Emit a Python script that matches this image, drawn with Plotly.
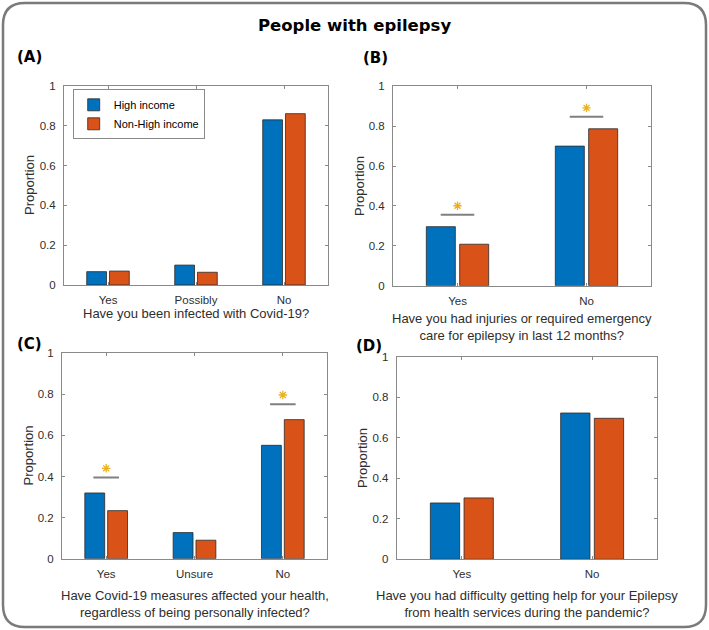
import plotly.graph_objects as go

# ---------------- data ----------------
series_names = ["High income", "Non-High income"]

cats_A = ["Yes", "Possibly", "No"]
high_A = [0.067, 0.100, 0.830]
non_A = [0.070, 0.064, 0.861]
sig_A = [False, False, False]

cats_B = ["Yes", "No"]
high_B = [0.296, 0.700]
non_B = [0.208, 0.787]
sig_B = [True, True]

cats_C = ["Yes", "Unsure", "No"]
high_C = [0.320, 0.127, 0.552]
non_C = [0.234, 0.090, 0.677]
sig_C = [True, False, True]

cats_D = ["Yes", "No"]
high_D = [0.278, 0.722]
non_D = [0.303, 0.696]
sig_D = [False, False]

y_ticks = [0, 0.2, 0.4, 0.6, 0.8, 1]
y_tick_labels = ["0", "0.2", "0.4", "0.6", "0.8", "1"]

xlab_A = "Have you been infected with Covid-19?"
xlab_B = "Have you had injuries or required emergency<br>care for epilepsy in last 12 months?"
xlab_C = "Have Covid-19 measures affected your health,<br>regardless of being personally infected?"
xlab_D = "Have you had difficulty getting help for your Epilepsy<br>from health services during the pandemic?"
main_title = "People with epilepsy"

# ---------------- styling ----------------
W, H = 709, 630
BLUE = "#0072BD"
ORANGE = "#D95319"
STAR = "#EDB120"
SIGLINE = "#808080"
AXCOL = "#8a8a8a"
TXT = "#2e2e2e"
FONT = "Liberation Sans, Arial, sans-serif"
BOLD = "DejaVu Sans, Verdana, sans-serif"


def fx(p):
    return p / W


def fy(p):
    return 1 - p / H


panels = [
    dict(key="A", cats=cats_A, hi=high_A, lo=non_A, sig=sig_A, xlab=xlab_A,
         box=(64, 328, 86, 285), lab=(29, 57), ylab_x=29.5, xlab_y=313, sig_off=0.07, half=0.14),
    dict(key="B", cats=cats_B, hi=high_B, lo=non_B, sig=sig_B, xlab=xlab_B,
         box=(393, 651, 86.3, 285.7), lab=(375.5, 58), ylab_x=359, xlab_y=327, sig_off=0.06, half=0.13),
    dict(key="C", cats=cats_C, hi=high_C, lo=non_C, sig=sig_C, xlab=xlab_C,
         box=(62, 327, 353.3, 558.7), lab=(29.5, 344), ylab_x=27.5, xlab_y=604, sig_off=0.075, half=0.145),
    dict(key="D", cats=cats_D, hi=high_D, lo=non_D, sig=sig_D, xlab=xlab_D,
         box=(396.7, 657.3, 356.7, 559.3), lab=(368.5, 345.5), ylab_x=362, xlab_y=603.5, sig_off=0.07, half=0.13),
]

fig = go.Figure()
annotations = []
layout_axes = {}

for i, p in enumerate(panels):
    n = i + 1
    xa = "x" if n == 1 else f"x{n}"
    ya = "y" if n == 1 else f"y{n}"
    xpos = list(range(1, len(p["cats"]) + 1))
    for name, vals, col in [(series_names[0], p["hi"], BLUE), (series_names[1], p["lo"], ORANGE)]:
        fig.add_trace(go.Bar(
            x=xpos, y=vals, name=name, xaxis=xa, yaxis=ya,
            marker=dict(color=col, line=dict(color="#2a2a2a", width=0.8)),
            showlegend=(n == 1), legendgroup=name, hoverinfo="skip",
        ))
    # significance markers
    for c, flag, a, b in zip(xpos, p["sig"], p["hi"], p["lo"]):
        if not flag:
            continue
        ly = max(a, b) + p["sig_off"]
        fig.add_trace(go.Scatter(
            x=[c - p["half"], c + p["half"]], y=[ly, ly], mode="lines",
            line=dict(color=SIGLINE, width=2), xaxis=xa, yaxis=ya,
            showlegend=False, hoverinfo="skip"))
        fig.add_trace(go.Scatter(
            x=[c], y=[ly + 0.045], mode="markers",
            marker=dict(symbol="asterisk-open", size=7, color=STAR,
                        line=dict(color=STAR, width=1.3)),
            xaxis=xa, yaxis=ya, showlegend=False, hoverinfo="skip"))

    x0, x1, y0, y1 = p["box"]
    axis_common = dict(showline=True, linecolor=AXCOL, linewidth=1, mirror="allticks",
                       ticks="inside", ticklen=3, tickcolor=AXCOL, showgrid=False,
                       zeroline=False, automargin=False,
                       tickfont=dict(family=FONT, size=11.5, color=TXT))
    layout_axes["xaxis" if n == 1 else f"xaxis{n}"] = dict(
        domain=[fx(x0), fx(x1)], range=[0.5, len(p["cats"]) + 0.5],
        tickvals=xpos, ticktext=p["cats"], anchor=ya, ticklabelstandoff=4, **axis_common)
    layout_axes["yaxis" if n == 1 else f"yaxis{n}"] = dict(
        domain=[fy(y1), fy(y0)], range=[0, 1], tickvals=y_ticks, ticktext=y_tick_labels,
        anchor=xa, ticklabelstandoff=5, **axis_common)

    # panel label
    annotations.append(dict(text=f"<b>({p['key']})</b>", x=fx(p["lab"][0]), y=fy(p["lab"][1]),
                            xref="paper", yref="paper", showarrow=False,
                            xanchor="center", yanchor="middle",
                            font=dict(family=BOLD, size=15, color="black")))
    # y label
    annotations.append(dict(text="Proportion", x=fx(p["ylab_x"]), y=fy((y0 + y1) / 2),
                            xref="paper", yref="paper", showarrow=False, textangle=-90,
                            xanchor="center", yanchor="middle",
                            font=dict(family=FONT, size=13, color=TXT)))
    # x label
    annotations.append(dict(text=p["xlab"], x=fx((x0 + x1) / 2), y=fy(p["xlab_y"]),
                            xref="paper", yref="paper", showarrow=False,
                            xanchor="center", yanchor="middle",
                            font=dict(family=FONT, size=13, color=TXT)))

annotations.append(dict(text=f"<b>{main_title}</b>", x=fx(354), y=fy(26),
                        xref="paper", yref="paper", showarrow=False,
                        xanchor="center", yanchor="middle",
                        font=dict(family=BOLD, size=16.5, color="black")))

# rounded outer frame
bx0, bx1, by0, by1, r = 3, 706, 3, 627, 22
path = (f"M {fx(bx0 + r)},{fy(by0)} L {fx(bx1 - r)},{fy(by0)} "
        f"Q {fx(bx1)},{fy(by0)} {fx(bx1)},{fy(by0 + r)} "
        f"L {fx(bx1)},{fy(by1 - r)} Q {fx(bx1)},{fy(by1)} {fx(bx1 - r)},{fy(by1)} "
        f"L {fx(bx0 + r)},{fy(by1)} Q {fx(bx0)},{fy(by1)} {fx(bx0)},{fy(by1 - r)} "
        f"L {fx(bx0)},{fy(by0 + r)} Q {fx(bx0)},{fy(by0)} {fx(bx0 + r)},{fy(by0)} Z")

fig.update_layout(
    width=W, height=H, margin=dict(l=0, r=0, t=0, b=0),
    paper_bgcolor="white", plot_bgcolor="white",
    barmode="group", bargap=0.483, bargroupgap=0.13,
    annotations=annotations,
    shapes=[dict(type="path", path=path, xref="paper", yref="paper",
                 line=dict(color="#7a7a7a", width=2.5), layer="above")],
    legend=dict(x=fx(72.7), y=fy(89.3), xanchor="left", yanchor="top",
                bgcolor="white", bordercolor="#8a8a8a", borderwidth=1,
                font=dict(family=FONT, size=11, color="black"),
                tracegroupgap=0, itemwidth=30),
    showlegend=True,
    **layout_axes,
)

fig.write_html("out.html", config={"displayModeBar": False},
               post_script="document.body.style.margin='0';")
